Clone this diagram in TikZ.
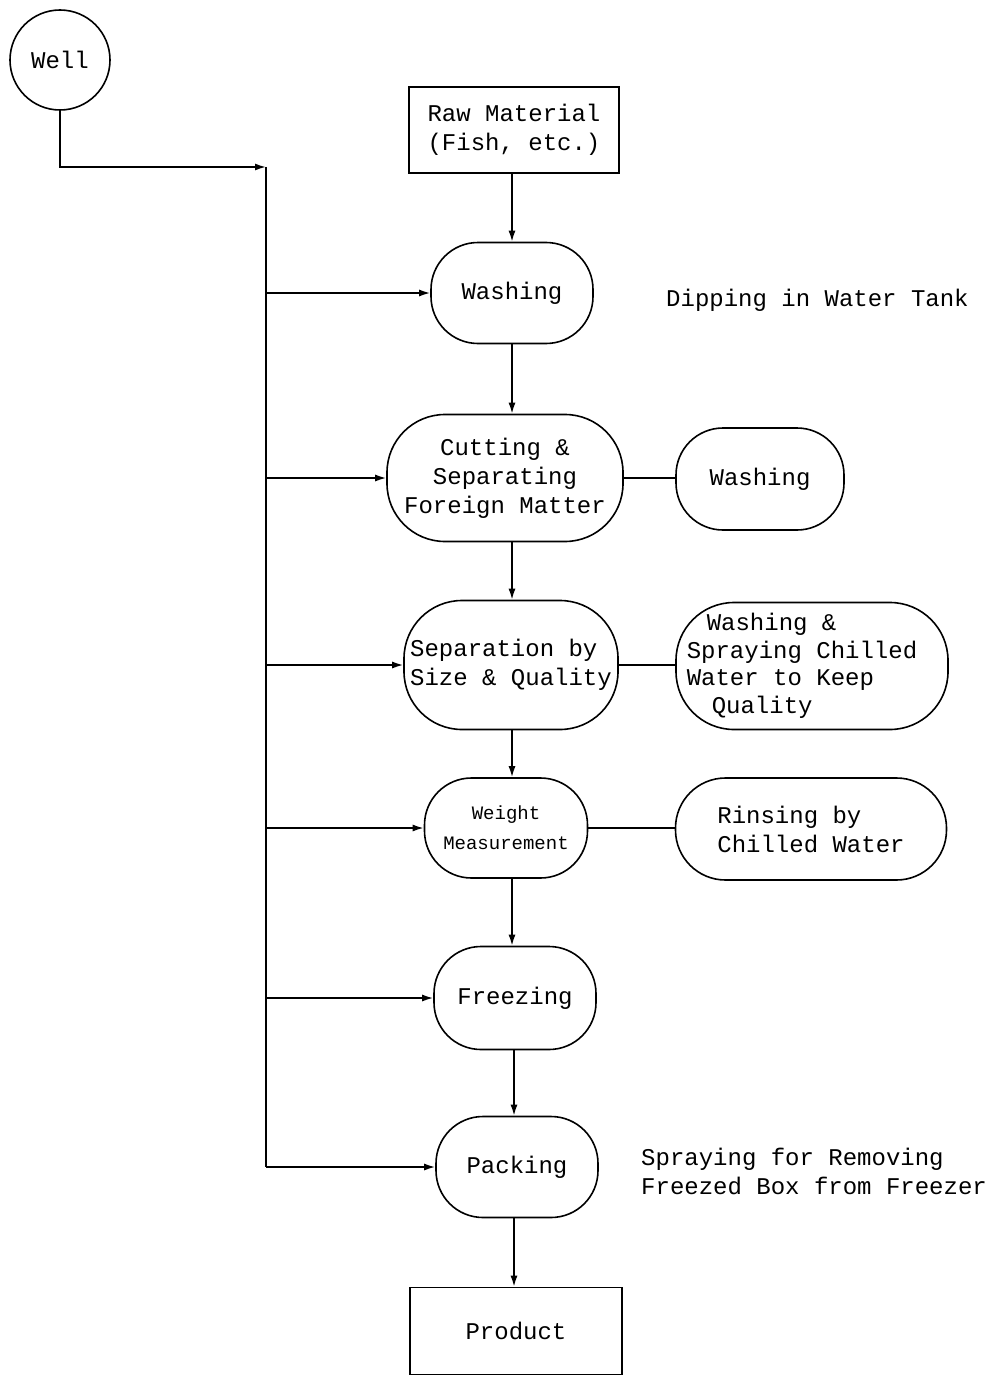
\documentclass[tikz,border=0pt]{standalone}
\usepackage{fontspec}
\setmainfont{Liberation Mono}
\usetikzlibrary{arrows.meta}
\begin{document}
\begin{tikzpicture}[x=1pt,y=-1pt,
  every node/.style={font=\fontsize{24}{29}\selectfont, inner sep=0pt},
  ln/.style={line width=1.6pt},
  arr/.style={ln, -{Latex[length=11pt,width=7pt]}},
  stepnode/.style={draw, ln, align=center, rounded corners=#1},
  stepnode/.default=47pt,
  boxnode/.style={draw, ln, align=center},
  note/.style={align=left, anchor=west}]
\useasboundingbox (0,0) rectangle (991,1375);

% source and main process column
\node[draw, ln, circle, minimum size=100pt] (well) at (60,60) {Well};
\node[boxnode, minimum width=210pt, minimum height=86pt] (raw) at (514,130) {Raw Material\\(Fish, etc.)};
\node[stepnode, minimum width=162pt, minimum height=101pt] (wash1) at (512,293) {Washing};
\node[stepnode=58pt, minimum width=236pt, minimum height=127pt] (cut) at (505,478) {Cutting \&\\Separating\\Foreign Matter};
\node[stepnode=58pt, minimum width=214pt, minimum height=129pt, align=left] (sep) at (511,665) {Separation by\\Size \& Quality};
\node[stepnode, minimum width=163pt, minimum height=100pt, font=\fontsize{19}{30}\selectfont] (weigh) at (506,828) {Weight\\Measurement};
\node[stepnode, minimum width=162pt, minimum height=103pt] (freeze) at (515,998) {Freezing};
\node[stepnode, minimum width=162pt, minimum height=101pt] (pack) at (517,1167) {Packing};
\node[boxnode, minimum width=212pt, minimum height=87pt] (prod) at (516,1331) {Product};

% side operations
\node[stepnode, minimum width=168pt, minimum height=102pt] (wash2) at (760,479) {Washing};
\node[stepnode=58pt, minimum width=272pt, minimum height=127pt, align=left, font=\fontsize{24}{27.5}\selectfont] (spray) at (812,666)
  {\hspace{20pt}Washing \&\\Spraying Chilled\hbox to 20pt{}\\Water to Keep\\\hspace{25pt}Quality};
\node[stepnode=50pt, minimum width=271pt, minimum height=102pt, align=left] (rinse) at (811,829) {Rinsing by\\Chilled Water};

% notes
\node[note] (dip) at (666,300) {Dipping in Water Tank};
\node[note] (sprnote) at (641,1171) {Spraying for Removing\\Freezed Box from Freezer};

% water supply bus
\coordinate (busTop) at (266,167);
\coordinate (busBot) at (266,1167);
\draw[arr] (well.south) |- (busTop);
\draw[ln] (busTop) -- (busBot);
\foreach \n in {wash1,cut,sep,weigh,freeze,pack}
  \draw[arr] (\n.west -| busTop) -- (\n.west);

% main flow
\draw[arr] (raw.south -| wash1) -- (wash1.north);
\draw[arr] (wash1.south) -- (cut.north -| wash1);
\draw[arr] (cut.south -| wash1) -- (sep.north -| wash1);
\draw[arr] (sep.south -| wash1) -- (weigh.north -| wash1);
\draw[arr] (weigh.south -| wash1) -- (freeze.north -| wash1);
\coordinate (lowcol) at (514,0);
\draw[arr] (freeze.south -| lowcol) -- (pack.north -| lowcol);
\draw[arr] (pack.south -| lowcol) -- (prod.north -| lowcol);

% links to side operations
\draw[ln] (cut.east) -- (cut.east -| wash2.west);
\draw[ln] (sep.east) -- (sep.east -| spray.west);
\draw[ln] (weigh.east) -- (weigh.east -| rinse.west);
\end{tikzpicture}
\end{document}
